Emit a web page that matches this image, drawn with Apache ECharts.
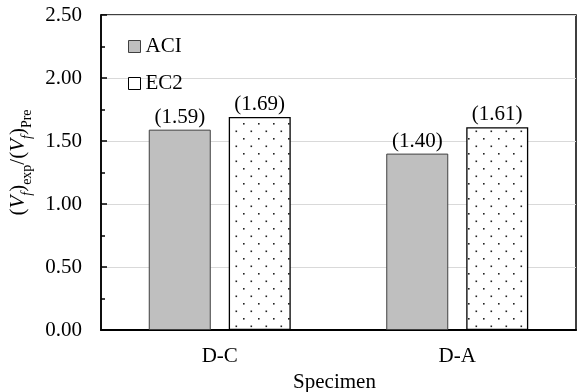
<!DOCTYPE html>
<html>
<head>
<meta charset="utf-8">
<script src="https://cdn.jsdelivr.net/npm/echarts@6/dist/echarts.min.js"></script>
<style>
html,body{margin:0;padding:0;background:#fff;}
#chart{width:579px;height:392px;}
</style>
</head>
<body>
<div id="chart"></div>
<script>
const categories = ['D-C', 'D-A'];
const aciValues = [1.59, 1.40];
const ec2Values = [1.69, 1.61];
const seriesNames = ['ACI', 'EC2'];
const yTicks = [0, 0.5, 1.0, 1.5, 2.0, 2.5];

const FONT = "'Liberation Serif', 'Times New Roman', serif";

// dotted pattern for EC2 bars
const pc = document.createElement('canvas');
pc.width = 15; pc.height = 15;
const pctx = pc.getContext('2d');
pctx.fillStyle = '#ffffff';
pctx.fillRect(0, 0, 15, 15);
pctx.fillStyle = '#222222';
pctx.fillRect(3, 3, 1.6, 1.6);
pctx.fillRect(10.5, 10.5, 1.6, 1.6);

const chart = echarts.init(document.getElementById('chart'), null, {renderer: 'canvas'});

const labelCfg = {
  show: true,
  position: 'top',
  distance: 2,
  color: '#000',
  fontFamily: FONT,
  fontSize: 21,
  formatter: p => '(' + p.value.toFixed(2) + ')'
};

chart.setOption({
  animation: false,
  backgroundColor: '#fff',
  textStyle: {fontFamily: FONT},
  grid: {
    left: 101, right: 3, top: 15, bottom: 62,
    outerBoundsMode: 'none',
    containLabel: false,
    show: true, borderColor: '#000', borderWidth: 1.5, backgroundColor: 'transparent'
  },
  legend: {
    orient: 'vertical',
    left: 123, top: 31,
    itemWidth: 12, itemHeight: 12,
    itemGap: 16,
    textStyle: {fontFamily: FONT, fontSize: 21, color: '#000'},
    data: [
      {name: 'ACI', icon: 'rect', itemStyle: {color: '#bfbfbf', borderColor: '#404040', borderWidth: 1}},
      {name: 'EC2', icon: 'rect', itemStyle: {color: '#ffffff', borderColor: '#000', borderWidth: 1}}
    ]
  },
  xAxis: {
    type: 'category',
    data: categories,
    name: 'Specimen',
    nameLocation: 'middle',
    nameGap: 33,
    nameTextStyle: {fontFamily: FONT, fontSize: 21, color: '#000', padding: [0, 8, 0, 0]},
    axisLine: {lineStyle: {color: '#000', width: 2}},
    axisTick: {show: false},
    axisLabel: {fontFamily: FONT, fontSize: 21, color: '#000', margin: 16}
  },
  yAxis: {
    type: 'value',
    min: yTicks[0], max: yTicks[yTicks.length - 1], interval: 0.5,
    name: '{p|(}{i|V}{is|f}{p|)}{s|exp}{p|/(}{i|V}{is|f}{p|)}{s|Pre}',
    nameLocation: 'middle',
    nameGap: 55,
    nameRotate: 90,
    nameTextStyle: {
      fontFamily: FONT, fontSize: 21, color: '#000',
      padding: [0, 0, 0, 20],
      rich: {
        p: {fontFamily: FONT, fontSize: 21, color: '#000', lineHeight: 26, verticalAlign: 'top'},
        i: {fontFamily: FONT, fontSize: 21, fontStyle: 'italic', color: '#000', lineHeight: 26, verticalAlign: 'top'},
        is: {fontFamily: FONT, fontSize: 14, fontStyle: 'italic', color: '#000', lineHeight: 14, verticalAlign: 'bottom'},
        s: {fontFamily: FONT, fontSize: 14, color: '#000', lineHeight: 14, verticalAlign: 'bottom'}
      }
    },
    axisLine: {show: true, lineStyle: {color: '#000', width: 1.5}},
    axisTick: {show: true, inside: true, length: 6, lineStyle: {color: '#000', width: 1.5}},
    minorTick: {show: true, splitNumber: 2, length: 4, lineStyle: {color: '#000', width: 1.5}},
    splitLine: {show: true, lineStyle: {color: '#d9d9d9', width: 1}},
    axisLabel: {
      fontFamily: FONT, fontSize: 21, color: '#000', margin: 19,
      formatter: v => v.toFixed(2)
    }
  },
  series: [
    {
      name: seriesNames[0],
      type: 'bar',
      data: aciValues,
      barWidth: 62,
      barGap: '29%',
      itemStyle: {color: '#bfbfbf', borderColor: '#404040', borderWidth: 1},
      label: labelCfg
    },
    {
      name: seriesNames[1],
      type: 'bar',
      data: ec2Values,
      barWidth: 62,
      itemStyle: {color: {image: pc, repeat: 'repeat'}, borderColor: '#000', borderWidth: 1.3},
      label: labelCfg
    }
  ]
});
</script>
</body>
</html>
